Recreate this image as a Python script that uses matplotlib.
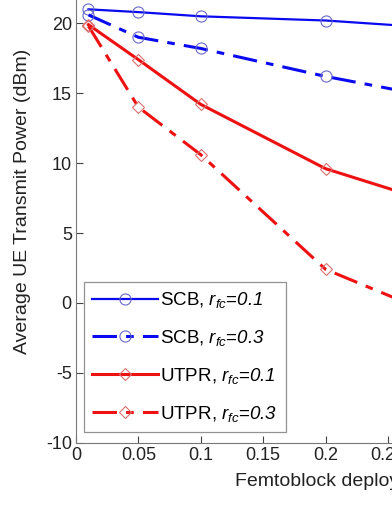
import numpy as np
import matplotlib
matplotlib.use("Agg")
import matplotlib.pyplot as plt

plt.rcParams['font.family'] = ['Liberation Sans', 'DejaVu Sans']
plt.rcParams['axes.unicode_minus'] = False
plt.rcParams['mathtext.fontset'] = 'custom'
plt.rcParams['mathtext.rm'] = 'Liberation Sans:italic'
plt.rcParams['mathtext.it'] = 'Liberation Sans:italic'

# datos
ratio = [0.01, 0.05, 0.1, 0.2, 0.3]
scb_01 = [21.0, 20.8, 20.5, 20.2, 19.6]
scb_03 = [20.6, 19.0, 18.2, 16.2, 14.5]
utpr_01 = [19.9, 17.4, 14.2, 9.6, 6.8]
utpr_03 = [19.8, 14.0, 10.6, 2.4, -1.3]

etiquetas = [r"SCB, $r_{fc}$=$0.1$", r"SCB, $r_{fc}$=$0.3$",
             r"UTPR, $r_{fc}$=$0.1$", r"UTPR, $r_{fc}$=$0.3$"]

fig = plt.figure(figsize=(3.92, 5.08), dpi=100)
ancho_px = 0.45 * 1248
alto_px = 35 * 13.98
ax = fig.add_axes([76/392, 65.3/508, ancho_px/392, alto_px/508])

azul, azul_m = "#0a0af0", "#6868cc"
rojo, rojo_m = "#ee1111", "#dd7070"
raya_punto = (0, (8, 3, 2.5, 3))

ax.plot(ratio, scb_01, color=azul, lw=1.6, marker='o', ms=8, mfc='none',
        mec=azul_m, mew=0.8, label=etiquetas[0])
ax.plot(ratio, scb_03, color=azul, lw=2.2, ls=raya_punto, marker='o', ms=8,
        mfc='none', mec=azul_m, mew=0.8, label=etiquetas[1])
ax.plot(ratio, utpr_01, color=rojo, lw=2.2, marker='D', ms=6.5, mfc='none',
        mec=rojo_m, mew=0.8, label=etiquetas[2])
ax.plot(ratio, utpr_03, color=rojo, lw=2.2, ls=raya_punto, marker='D', ms=6.5,
        mfc='none', mec=rojo_m, mew=0.8, label=etiquetas[3])

ax.set_xlim(0, 0.45)
ax.set_ylim(-10, 25)
ax.set_xticks(np.arange(0, 0.45, 0.05))
ax.set_xticklabels(["0", "0.05", "0.1", "0.15", "0.2", "0.25", "0.3", "0.35", "0.4"])
ax.set_yticks(np.arange(-10, 26, 5))
ax.tick_params(direction='in', labelsize=13, length=5, colors='#222222', pad=3)
for s in ax.spines.values():
    s.set_color('#777777')
ax.tick_params(color='#444444')

ax.set_ylabel("Average UE Transmit Power (dBm)", fontsize=14, color='#222222')
ax.yaxis.set_label_coords(-45/ancho_px, (442.7-201.5)/alto_px)
ax.set_xlabel("Femtoblock deployment ratio", fontsize=14, color='#222222')
ax.xaxis.set_label_coords((361-76)/ancho_px, -(473-442.7)/alto_px)

leg = ax.legend(loc='lower left', bbox_to_anchor=(84/392, 76/508),
                bbox_transform=fig.transFigure, fontsize=13.5, handlelength=3.5,
                frameon=True, fancybox=False, edgecolor='#777777',
                borderpad=0.45, labelspacing=0.95, handletextpad=0.1,
                borderaxespad=0)
leg.get_frame().set_linewidth(0.9)

fig.savefig("out.png", dpi=100)
